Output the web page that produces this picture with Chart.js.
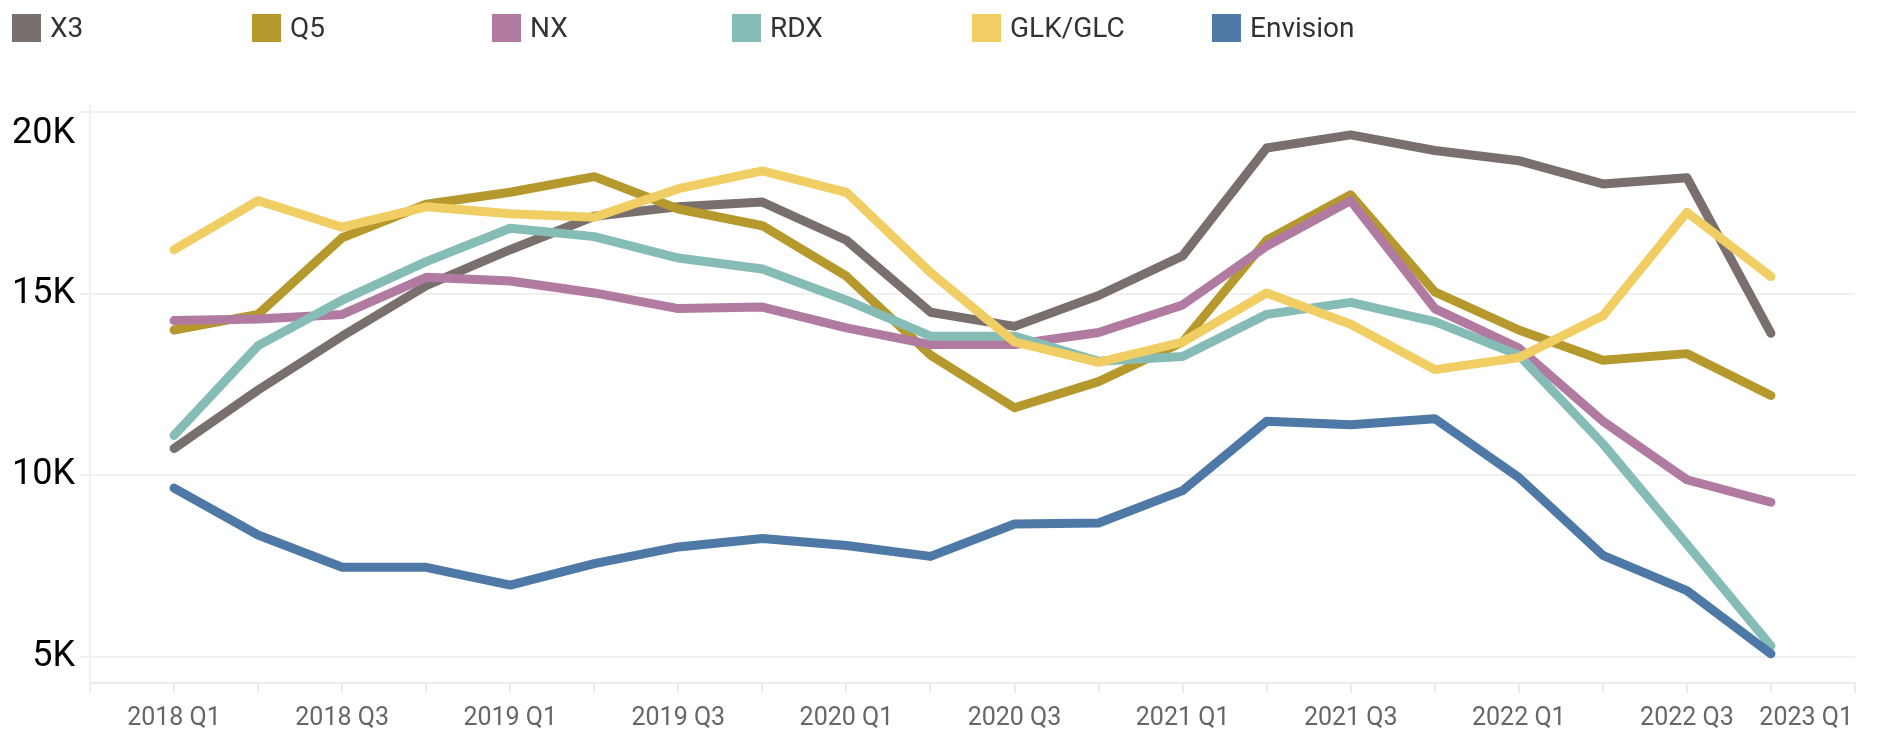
<!DOCTYPE html>
<html>
<head>
<meta charset="utf-8">
<script src="https://cdn.jsdelivr.net/npm/chart.js@4"></script>
<style>
  html, body { margin: 0; padding: 0; background: #fff; }
  #wrap { position: relative; width: 1879px; height: 731px; }
  #legend { position: absolute; left: 0; top: 0; height: 56px; width: 1879px; z-index: 2; }
  .item { position: absolute; top: 14px; display: flex; align-items: center; font-family: Roboto, sans-serif; font-size: 28px; color: #333; line-height: 28px; }
  .item span.box { display: inline-block; width: 29px; height: 28px; margin-right: 9px; }
  canvas { position: absolute; left: 0; top: 0; }
</style>
</head>
<body>
<div id="wrap">
  <div id="legend"></div>
  <canvas id="salesChart" width="1879" height="731"></canvas>
</div>
<script>
// quarters on the x axis (one point each)
const quarters = ['2018 Q1','2018 Q2','2018 Q3','2018 Q4','2019 Q1','2019 Q2','2019 Q3','2019 Q4',
                  '2020 Q1','2020 Q2','2020 Q3','2020 Q4','2021 Q1','2021 Q2','2021 Q3','2021 Q4',
                  '2022 Q1','2022 Q2','2022 Q3','2022 Q4'];
// axis labels by quarter position (the axis runs one quarter past the data, to 2023 Q1)
const tickLabels = ['2018 Q1','','2018 Q3','','2019 Q1','','2019 Q3','','2020 Q1','','2020 Q3','',
                    '2021 Q1','','2021 Q3','','2022 Q1','','2022 Q3','','2023 Q1'];
const yTicks = [5000, 10000, 15000, 20000];

const models = ['X3', 'Q5', 'NX', 'RDX', 'GLK/GLC', 'Envision'];
const colors = ['#79706e', '#b6992d', '#b07aa1', '#86bcb6', '#f1ce63', '#4e79a7'];

const x3       = [10740, 12350, 13830, 15220, 16210, 17130, 17390, 17520, 16470, 14490, 14100, 14950, 16040, 19010, 19370, 18940, 18660, 18020, 18190, 13910];
const q5       = [14000, 14430, 16540, 17460, 17790, 18220, 17330, 16870, 15480, 13310, 11860, 12580, 13670, 16470, 17720, 15050, 14000, 13170, 13350, 12200];
const nx       = [14260, 14300, 14430, 15450, 15350, 15020, 14590, 14630, 14060, 13600, 13600, 13930, 14690, 16310, 17560, 14590, 13500, 11490, 9880, 9260];
const rdx      = [11100, 13570, 14820, 15880, 16800, 16570, 15980, 15680, 14820, 13830, 13830, 13140, 13270, 14430, 14760, 14230, 13310, 10870, 8100, 5310];
const glk      = [16210, 17560, 16830, 17390, 17200, 17100, 17890, 18380, 17790, 15580, 13670, 13110, 13670, 15020, 14160, 12910, 13240, 14390, 17240, 15470];
const envision = [9650, 8360, 7470, 7470, 6980, 7570, 8030, 8260, 8070, 7770, 8660, 8690, 9580, 11490, 11390, 11560, 9940, 7800, 6830, 5090];

const series = [x3, q5, nx, rdx, glk, envision];

// html legend, fixed spacing like the original
const legendEl = document.getElementById('legend');
models.forEach((m, i) => {
    const d = document.createElement('div');
    d.className = 'item';
    d.style.left = (12 + i * 240) + 'px';
    d.innerHTML = '<span class="box" style="background:' + colors[i] + '"></span>' + m;
    legendEl.appendChild(d);
});

const datasets = series.map((vals, i) => ({
    label: models[i],
    data: vals.map((v, j) => ({ x: j, y: v })),
    borderColor: colors[i],
    backgroundColor: colors[i],
    borderWidth: 9,
    borderCapStyle: 'round',
    borderJoinStyle: 'round',
    pointRadius: 0,
    tension: 0,
    order: models.length - i   // later series sit on top
}));

// the last x label sits at the axis end, so keep it inside the plot (right aligned)
const clampLastLabel = {
    id: 'clampLastLabel',
    beforeDraw(chart) {
        const sx = chart.scales.x;
        const items = sx.getLabelItems();
        const last = items[items.length - 1];
        if (last && last.label) {
            last.options.textAlign = 'right';
            last.options.translation[0] = sx.right - 2;
        }
    }
};

new Chart(document.getElementById('salesChart'), {
    type: 'line',
    data: { datasets: datasets },
    plugins: [clampLastLabel],
    options: {
        responsive: false,
        animation: false,
        layout: { padding: { top: 105, right: 24, left: 0, bottom: 0 } },
        plugins: {
            legend: { display: false },
            tooltip: {
                callbacks: {
                    title: items => quarters[items[0].parsed.x]
                }
            }
        },
        scales: {
            x: {
                type: 'linear',
                min: -1,
                max: 20,
                afterFit: s => { s.height = 48; s.paddingLeft = 0; s.paddingRight = 0; },
                afterBuildTicks: s => {
                    s.ticks = [];
                    for (let v = -1; v <= 20; v++) s.ticks.push({ value: v });
                },
                grid: { drawOnChartArea: false, drawTicks: true, tickLength: 10, color: '#ececec', lineWidth: 2 },
                border: { display: true, color: '#ececec', width: 2 },
                ticks: {
                    autoSkip: false,
                    maxRotation: 0,
                    padding: 11,
                    color: '#666',
                    font: { family: 'Roboto', size: 25 },
                    callback: v => tickLabels[v] || ''
                }
            },
            y: {
                min: 4286,
                max: 20192,
                afterFit: s => { s.width = 90; },
                afterBuildTicks: s => { s.ticks = yTicks.map(v => ({ value: v })); },
                grid: { color: '#f0f0f0', lineWidth: 2, tickLength: 10 },
                border: { display: true, color: '#f0f0f0', width: 2 },
                ticks: {
                    padding: 5,
                    color: '#000',
                    font: { family: 'Roboto', size: 36 },
                    // top label is pushed down inside the plot, like the original
                    callback: v => v === 20000 ? ['', '20K'] : (v / 1000) + 'K'
                }
            }
        }
    }
});
</script>
</body>
</html>
